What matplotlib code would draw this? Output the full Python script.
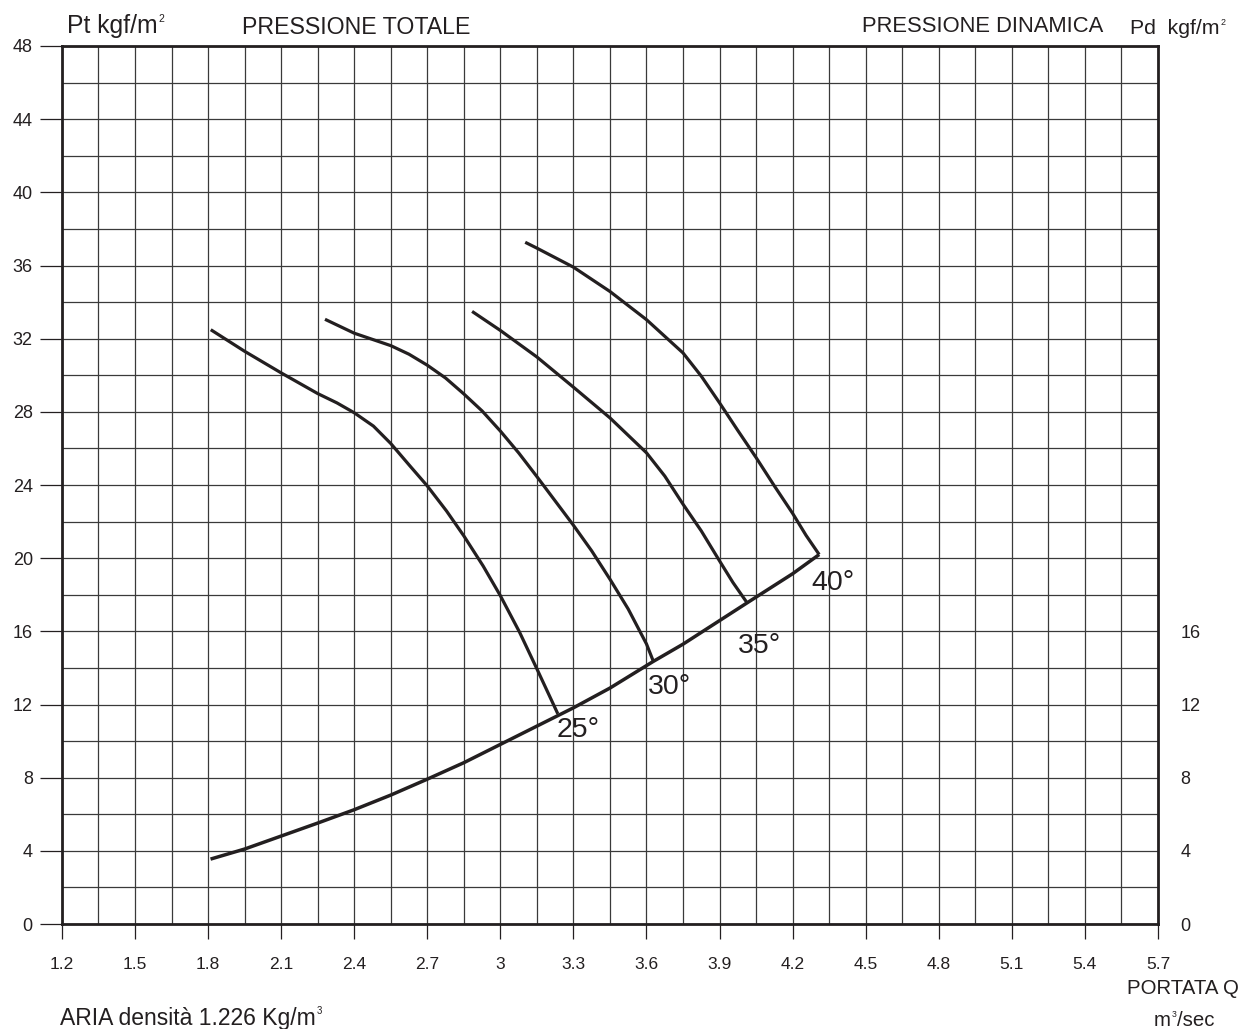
import matplotlib
matplotlib.use("Agg")
import matplotlib.pyplot as plt
import numpy as np

plt.rcParams['font.family'] = ['Liberation Sans', 'DejaVu Sans']

# ---- data ----
x_ticks = [1.2, 1.5, 1.8, 2.1, 2.4, 2.7, 3.0, 3.3, 3.6, 3.9, 4.2, 4.5, 4.8, 5.1, 5.4, 5.7]
x_ticklabels = ['1.2', '1.5', '1.8', '2.1', '2.4', '2.7', '3', '3.3', '3.6', '3.9',
                '4.2', '4.5', '4.8', '5.1', '5.4', '5.7']
y_ticks_left = [0, 4, 8, 12, 16, 20, 24, 28, 32, 36, 40, 44, 48]
y_ticks_right = [0, 4, 8, 12, 16]

q25 = [1.811, 1.95, 2.10, 2.25, 2.329, 2.40, 2.479, 2.55, 2.629, 2.70, 2.779, 2.85,
       2.929, 3.00, 3.079, 3.15, 3.236]
p25 = [32.49, 31.31, 30.13, 29.0, 28.49, 27.95, 27.22, 26.27, 25.04, 23.95, 22.58, 21.22,
       19.58, 17.95, 15.95, 13.95, 11.49]

q30 = [2.28, 2.40, 2.55, 2.625, 2.70, 2.775, 2.85, 2.925, 3.00, 3.075, 3.15, 3.225,
       3.30, 3.375, 3.45, 3.525, 3.60, 3.627]
p30 = [33.06, 32.3, 31.62, 31.15, 30.55, 29.85, 28.98, 28.05, 26.95, 25.76, 24.46, 23.13,
       21.8, 20.4, 18.85, 17.22, 15.31, 14.4]

q35 = [2.884, 3.00, 3.15, 3.30, 3.45, 3.60, 3.675, 3.75, 3.825, 3.90, 3.955, 4.012]
p35 = [33.49, 32.45, 31.0, 29.35, 27.67, 25.76, 24.49, 22.95, 21.49, 19.85, 18.67, 17.58]

q40 = [3.102, 3.15, 3.30, 3.45, 3.60, 3.75, 3.825, 3.90, 3.975, 4.05, 4.125, 4.20,
       4.255, 4.309]
p40 = [37.27, 36.95, 35.91, 34.58, 33.04, 31.22, 29.95, 28.49, 26.98, 25.5, 23.95, 22.45,
       21.25, 20.2]

q_pd = [1.81, 1.95, 2.10, 2.25, 2.40, 2.55, 2.70, 2.85, 3.00, 3.15, 3.30, 3.45,
        3.627, 3.75, 4.012, 4.20, 4.309]
p_pd = [3.55, 4.1, 4.81, 5.52, 6.25, 7.05, 7.92, 8.82, 9.82, 10.82, 11.82, 12.9,
        14.35, 15.3, 17.55, 19.15, 20.2]

angle_labels = ['25°', '30°', '35°', '40°']
angle_label_q = [3.229, 3.604, 3.974, 4.275]
angle_label_p = [10.6, 12.97, 15.2, 18.64]

# ---- figure ----
fig = plt.figure(figsize=(12.39, 10.29), dpi=100)
ax = fig.add_axes([0.0500, 0.1020, 0.8846, 0.8533])
ax.set_xlim(1.2, 5.7)
ax.set_ylim(0, 48)

# grid
for xv in np.arange(1.2, 5.7001, 0.15):
    ax.axvline(xv, color='#3a3a3a', lw=0.9, zorder=1)
for yv in np.arange(0, 48.001, 2):
    ax.axhline(yv, color='#3a3a3a', lw=0.9, zorder=1)

lw = 2.3
col = '#231f20'
for q, p in [(q25, p25), (q30, p30), (q35, p35), (q40, p40)]:
    ax.plot(q, p, color=col, lw=lw, solid_capstyle='butt', solid_joinstyle='round', zorder=3)
ax.plot(q_pd, p_pd, color=col, lw=2.5, solid_capstyle='butt', solid_joinstyle='round', zorder=3)

for t, qx, py in zip(angle_labels, angle_label_q, angle_label_p):
    ax.text(qx, py, t, fontsize=20.5, ha='left', va='center', color=col, zorder=4)

for s in ax.spines.values():
    s.set_linewidth(2.0)
    s.set_color(col)

ax.set_xticks(x_ticks)
ax.set_xticklabels(x_ticklabels)
ax.set_yticks(y_ticks_left)
ax.tick_params(axis='x', length=11, width=0.9, pad=13, labelsize=12.5, colors=col)
ax.tick_params(axis='y', length=16, width=0.9, pad=5, labelsize=13, colors=col)

ax2 = ax.twinx()
ax2.set_ylim(0, 48)
ax2.set_yticks(y_ticks_right)
ax2.tick_params(axis='y', length=0, pad=16, labelsize=13, colors=col)
for s in ax2.spines.values():
    s.set_visible(False)

# header / footer texts
W, H = 1239.0, 1029.0

def fx(px):
    return px / W

def fy(py):
    return 1 - py / H

fig.canvas.draw()
r = fig.canvas.get_renderer()

def sup_text(x, y, main, sup, size, ha='left'):
    t = fig.text(x, y, main, fontsize=size, ha=ha, va='center', color=col)
    bb = t.get_window_extent(renderer=r)
    s = fig.text(bb.x1 / W + 0.0005, (bb.y0 + bb.height * 0.80) / H, sup,
                 fontsize=size * 0.42, ha='left', va='center', color=col)
    return s.get_window_extent(renderer=r)

sup_text(fx(67), fy(26), 'Pt kgf/m', '2', 17.8)
fig.text(fx(242), fy(27), 'PRESSIONE TOTALE', fontsize=16.7, ha='left', va='center', color=col)
fig.text(fx(862), fy(27), 'PRESSIONE DINAMICA', fontsize=15.8, ha='left', va='center', color=col)
sup_text(fx(1130), fy(28), 'Pd  kgf/m', '2', 15.3)
sup_text(fx(60), fy(1018), 'ARIA densità 1.226 Kg/m', '3', 16.5)
fig.text(fx(1239), fy(988), 'PORTATA Q', fontsize=14.7, ha='right', va='center', color=col)
bb = sup_text(fx(1154), fy(1020), 'm', '3', 14.7)
fig.text(bb.x1 / W + 0.0003, fy(1020), '/sec', fontsize=14.7, ha='left', va='center', color=col)

fig.savefig('out.png', dpi=100)
